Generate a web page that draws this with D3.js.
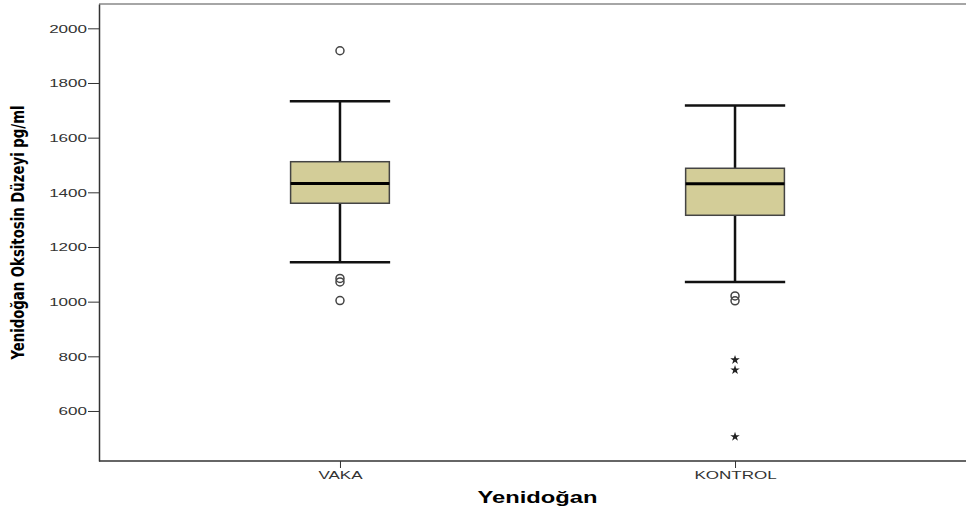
<!DOCTYPE html>
<html>
<head>
<meta charset="utf-8">
<script src="https://cdn.jsdelivr.net/npm/d3@7"></script>
<style>
  body { margin: 0; background: #fff; }
  svg { display: block; }
</style>
</head>
<body>
<svg id="boxplot_chart"></svg>
<script>
// values
const categories = ["VAKA", "KONTROL"];
const whiskerLow = [1144, 1072];
const q1 = [1360, 1316];
const median = [1432, 1431];
const q3 = [1512, 1488];
const whiskerHigh = [1733, 1718];
const outlierCircles = [[1918, 1085, 1072, 1004], [1021, 1003]];
const outlierStars = [[], [787, 750, 506]];
const yTicks = [600, 800, 1000, 1200, 1400, 1600, 1800, 2000];

const width = 966, height = 515;
const margin = { top: 4, right: -10, bottom: 54, left: 99 };

const svg = d3.select("#boxplot_chart")
    .attr("width", width)
    .attr("height", height);

const x = d3.scalePoint()
    .domain(categories)
    .range([margin.left, width - margin.right])
    .padding(0.61);

const y = d3.scaleLinear()
    .domain([417, 2089])
    .range([height - margin.bottom, margin.top]);

const boxW = x.step() * 0.25;
const capW = x.step() * 0.127;

// frame top line
svg.append("line")
    .attr("x1", margin.left).attr("x2", width)
    .attr("y1", margin.top).attr("y2", margin.top)
    .style("stroke", "#888").style("stroke-width", 1.5);

// y axis
const yAxis = svg.append("g")
    .attr("transform", `translate(${margin.left},0)`)
    .call(d3.axisLeft(y).tickValues(yTicks).tickSize(11).tickSizeOuter(0).tickFormat(d3.format("d")));
yAxis.select(".domain").style("stroke", "#333").style("stroke-width", 1.5);
yAxis.selectAll(".tick line").style("stroke", "#333");
yAxis.selectAll(".tick text")
    .attr("transform", "scale(1.55,1)")
    .attr("x", -12 / 1.55)
    .attr("dy", "0.36em")
    .style("font-family", "Liberation Sans, Arial, sans-serif")
    .style("font-size", "11px")
    .style("fill", "#333");

// x axis
const xAxis = svg.append("g")
    .attr("transform", `translate(0,${height - margin.bottom})`)
    .call(d3.axisBottom(x).tickSize(7).tickSizeOuter(0));
xAxis.select(".domain")
    .attr("d", `M${margin.left},0H${width}`)
    .style("stroke", "#333").style("stroke-width", 1.5);
xAxis.selectAll(".tick line").style("stroke", "#333");
xAxis.selectAll(".tick text")
    .attr("transform", "scale(1.55,1)")
    .attr("y", 10)
    .style("font-family", "Liberation Sans, Arial, sans-serif")
    .style("font-size", "11px")
    .style("fill", "#333");

// axis titles
svg.append("text")
    .attr("transform", `translate(24,${(margin.top + height - margin.bottom) / 2}) rotate(-90)`)
    .attr("text-anchor", "middle")
    .attr("textLength", 254)
    .attr("lengthAdjust", "spacingAndGlyphs")
    .style("font-family", "Liberation Sans Narrow, DejaVu Sans Condensed, Arial, sans-serif")
    .style("font-weight", "bold")
    .style("font-size", "17px")
    .text("Yenidoğan Oksitosin Düzeyi pg/ml");

svg.append("text")
    .attr("x", (margin.left + width - margin.right) / 2)
    .attr("y", 503)
    .attr("text-anchor", "middle")
    .attr("textLength", 120)
    .attr("lengthAdjust", "spacingAndGlyphs")
    .style("font-family", "Liberation Sans, Arial, sans-serif")
    .style("font-weight", "bold")
    .style("font-size", "16px")
    .text("Yenidoğan");

const boxes = svg.append("g")
    .selectAll("g")
    .data(categories)
    .join("g");

// whiskers
boxes.append("line")
    .attr("x1", d => x(d)).attr("x2", d => x(d))
    .attr("y1", (d, i) => y(whiskerHigh[i]))
    .attr("y2", (d, i) => y(whiskerLow[i]))
    .style("stroke", "#111").style("stroke-width", 2.5);
boxes.append("line")
    .attr("x1", d => x(d) - capW).attr("x2", d => x(d) + capW)
    .attr("y1", (d, i) => y(whiskerHigh[i])).attr("y2", (d, i) => y(whiskerHigh[i]))
    .style("stroke", "#111").style("stroke-width", 2.5);
boxes.append("line")
    .attr("x1", d => x(d) - capW).attr("x2", d => x(d) + capW)
    .attr("y1", (d, i) => y(whiskerLow[i])).attr("y2", (d, i) => y(whiskerLow[i]))
    .style("stroke", "#111").style("stroke-width", 2.5);

// box
boxes.append("rect")
    .attr("x", d => x(d) - boxW / 2)
    .attr("width", boxW)
    .attr("y", (d, i) => y(q3[i]))
    .attr("height", (d, i) => y(q1[i]) - y(q3[i]))
    .style("fill", "#d3cd98")
    .style("stroke", "#444")
    .style("stroke-width", 1.5);

// median
boxes.append("line")
    .attr("x1", d => x(d) - boxW / 2).attr("x2", d => x(d) + boxW / 2)
    .attr("y1", (d, i) => y(median[i])).attr("y2", (d, i) => y(median[i]))
    .style("stroke", "#000").style("stroke-width", 3);

// outliers
boxes.selectAll("circle")
    .data((d, i) => outlierCircles[i].map(v => ({ cat: d, v: v })))
    .join("circle")
    .attr("cx", d => x(d.cat))
    .attr("cy", d => y(d.v))
    .attr("r", 4)
    .style("fill", "none")
    .style("stroke", "#444")
    .style("stroke-width", 1.5);

// extreme values
boxes.selectAll("path.star")
    .data((d, i) => outlierStars[i].map(v => ({ cat: d, v: v })))
    .join("path")
    .attr("class", "star")
    .attr("d", d3.symbol(d3.symbolStar, 28))
    .attr("transform", d => `translate(${x(d.cat)},${y(d.v)})`)
    .style("fill", "#222");
</script>
</body>
</html>
